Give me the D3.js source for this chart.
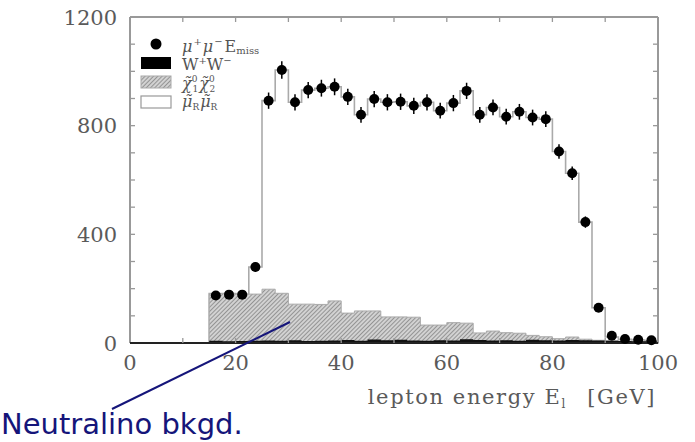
<!DOCTYPE html>
<html>
<head>
<meta charset="utf-8">
<script src="https://cdn.jsdelivr.net/npm/d3@7"></script>
<style>
  body { margin: 0; background: #fff; }
  svg { display: block; }
</style>
</head>
<body>
<div id="chart"></div>
<script>
// bin centres (2.5 GeV bins from 15 to 100)
const binCenters = [16.25, 18.75, 21.25, 23.75, 26.25, 28.75, 31.25, 33.75, 36.25, 38.75,
    41.25, 43.75, 46.25, 48.75, 51.25, 53.75, 56.25, 58.75, 61.25, 63.75,
    66.25, 68.75, 71.25, 73.75, 76.25, 78.75, 81.25, 83.75, 86.25, 88.75,
    91.25, 93.75, 96.25, 98.75];
const binWidth = 2.5;

// data points mu+mu- E_miss
const dataValues = [175, 178, 178, 280, 892, 1005, 886, 931, 938, 943,
    906, 840, 898, 886, 888, 873, 886, 855, 883, 928,
    840, 867, 833, 851, 830, 824, 705, 625, 445, 130,
    27, 15, 12, 10];
const dataErrors = [14, 14, 14, 17, 30, 32, 30, 30, 31, 31,
    30, 29, 30, 30, 30, 30, 30, 29, 30, 30,
    29, 29, 29, 29, 29, 29, 27, 25, 21, 12,
    6, 5, 4, 4];

// stacked MC: W+W-, neutralino, total (incl. smuon signal)
const wwValues = [8, 6, 7, 8, 9, 8, 10, 7, 8, 9,
    11, 8, 13, 10, 12, 9, 8, 10, 9, 14,
    11, 9, 10, 8, 12, 10, 9, 11, 10, 9,
    8, 7, 6, 6];
const chiValues = [174, 176, 173, 172, 189, 175, 133, 136, 134, 146,
    99, 110, 105, 86, 84, 86, 58, 56, 66, 59,
    26, 35, 28, 28, 16, 13, 7, 11, 4, 1,
    0, 0, 0, 0];
const totalValues = [182, 182, 180, 280, 892, 1005, 886, 931, 938, 943,
    906, 840, 898, 886, 888, 873, 886, 855, 883, 928,
    840, 867, 833, 851, 830, 824, 705, 625, 445, 130,
    22, 14, 11, 8];

const xTickLabels = [0, 20, 40, 60, 80, 100];
const yTickLabels = [0, 400, 800, 1200];

const W = 695, H = 442;
const margin = { top: 17, right: 37, bottom: 99, left: 130 };
const width = W - margin.left - margin.right;
const height = H - margin.top - margin.bottom;

const svg = d3.select('#chart').append('svg')
    .attr('width', W)
    .attr('height', H);

const defs = svg.append('defs');
const pat = defs.append('pattern')
    .attr('id', 'hatch')
    .attr('patternUnits', 'userSpaceOnUse')
    .attr('width', 3)
    .attr('height', 3)
    .attr('patternTransform', 'rotate(45)');
pat.append('rect').attr('width', 3).attr('height', 3).attr('fill', '#d2d2d2');
pat.append('line')
    .attr('x1', 0).attr('y1', 0).attr('x2', 0).attr('y2', 3)
    .attr('stroke', '#7a7a7a').attr('stroke-width', 1.4);

const g = svg.append('g')
    .attr('transform', `translate(${margin.left},${margin.top})`);

const x = d3.scaleLinear().domain([0, 100]).range([0, width]);
const y = d3.scaleLinear().domain([0, 1200]).range([height, 0]);

// build stepped area points
function stepPoints(highArr) {
    const pts = [];
    binCenters.forEach((c, i) => {
        pts.push({ x: c - binWidth / 2, y0: 0, y1: highArr[i] });
        pts.push({ x: c + binWidth / 2, y0: 0, y1: highArr[i] });
    });
    return pts;
}

const area = d3.area()
    .x(d => x(d.x))
    .y0(d => y(d.y0))
    .y1(d => y(d.y1));

// total MC (white smuon histogram on top)
g.append('path')
    .datum(stepPoints(totalValues))
    .attr('d', area)
    .attr('fill', '#fff')
    .attr('stroke', '#aaa')
    .attr('stroke-width', 1.6);

// neutralino (hatched) stacked on W+W-
const wwChiTop = chiValues.map((v, i) => v + wwValues[i]);
g.append('path')
    .datum(stepPoints(wwChiTop))
    .attr('d', area)
    .attr('fill', 'url(#hatch)')
    .attr('stroke', '#aaa')
    .attr('stroke-width', 1);

// W+W- (black)
g.append('path')
    .datum(stepPoints(wwValues))
    .attr('d', area)
    .attr('fill', '#111');

// frame and ticks
const axisGray = '#999';
g.append('line').attr('x1', 0).attr('x2', 0).attr('y1', 0).attr('y2', height)
    .attr('stroke', axisGray).attr('stroke-width', 2);
g.append('line').attr('x1', width).attr('x2', width).attr('y1', 0).attr('y2', height)
    .attr('stroke', axisGray).attr('stroke-width', 2);
g.append('line').attr('x1', 0).attr('x2', width).attr('y1', 0).attr('y2', 0)
    .attr('stroke', axisGray).attr('stroke-width', 2);
g.append('line').attr('x1', 0).attr('x2', width).attr('y1', height).attr('y2', height)
    .attr('stroke', '#222').attr('stroke-width', 2.2);

const yMinor = d3.range(100, 1200, 100);
const xMinor = d3.range(10, 100, 10);
const tickLen = 5;
yMinor.forEach(v => {
    g.append('line').attr('x1', 0).attr('x2', tickLen).attr('y1', y(v)).attr('y2', y(v))
        .attr('stroke', axisGray).attr('stroke-width', 1.3);
    g.append('line').attr('x1', width - tickLen).attr('x2', width).attr('y1', y(v)).attr('y2', y(v))
        .attr('stroke', axisGray).attr('stroke-width', 1.3);
});
xMinor.forEach(v => {
    g.append('line').attr('x1', x(v)).attr('x2', x(v)).attr('y1', height - tickLen).attr('y2', height)
        .attr('stroke', axisGray).attr('stroke-width', 1.3);
    g.append('line').attr('x1', x(v)).attr('x2', x(v)).attr('y1', 0).attr('y2', tickLen)
        .attr('stroke', axisGray).attr('stroke-width', 1.3);
});

const labelFont = 'DejaVu Serif, serif';
g.selectAll('.ylab')
    .data(yTickLabels)
    .enter()
    .append('text')
    .attr('class', 'ylab')
    .attr('x', -13)
    .attr('y', d => y(d))
    .attr('dy', '0.36em')
    .attr('text-anchor', 'end')
    .attr('font-family', labelFont)
    .attr('font-size', 21)
    .attr('fill', '#5a5a5a')
    .text(d => d);

g.selectAll('.xlab')
    .data(xTickLabels)
    .enter()
    .append('text')
    .attr('class', 'xlab')
    .attr('x', d => x(d))
    .attr('y', height + 27)
    .attr('text-anchor', 'middle')
    .attr('font-family', labelFont)
    .attr('font-size', 21)
    .attr('fill', '#5a5a5a')
    .text(d => d);

// x axis title
const xt = g.append('text')
    .attr('x', width - 2)
    .attr('y', height + 61)
    .attr('text-anchor', 'end')
    .attr('font-family', labelFont)
    .attr('font-size', 21)
    .attr('letter-spacing', 1.6)
    .attr('fill', '#5a5a5a');
xt.append('tspan').text('lepton energy E');
xt.append('tspan').attr('font-size', 12).attr('dy', 4).text('l');
xt.append('tspan').attr('dy', -4).text('\u2002 [GeV]');

// data points with error bars
const pts = g.selectAll('.pt')
    .data(binCenters.map((c, i) => ({ c, v: dataValues[i], e: dataErrors[i] })))
    .enter()
    .append('g')
    .attr('class', 'pt');
pts.append('line')
    .attr('x1', d => x(d.c)).attr('x2', d => x(d.c))
    .attr('y1', d => y(d.v + d.e)).attr('y2', d => y(d.v - d.e))
    .attr('stroke', '#000').attr('stroke-width', 1.5);
pts.append('circle')
    .attr('cx', d => x(d.c))
    .attr('cy', d => y(d.v))
    .attr('r', 5)
    .attr('fill', '#000');

// legend
const leg = svg.append('g');
leg.append('circle').attr('cx', 156).attr('cy', 44).attr('r', 5.5).attr('fill', '#000');
leg.append('rect').attr('x', 141).attr('y', 57).attr('width', 30).attr('height', 12).attr('fill', '#000');
leg.append('rect').attr('x', 141).attr('y', 76).attr('width', 30).attr('height', 12)
    .attr('fill', 'url(#hatch)').attr('stroke', '#aaa').attr('stroke-width', 1);
leg.append('rect').attr('x', 141).attr('y', 96).attr('width', 30).attr('height', 12)
    .attr('fill', '#fff').attr('stroke', '#999').attr('stroke-width', 1.2);

function legText(yPos) {
    return leg.append('text')
        .attr('x', 182)
        .attr('y', yPos)
        .attr('font-family', labelFont)
        .attr('font-size', 16)
        .attr('fill', '#555');
}
const t1 = legText(52);
t1.append('tspan').attr('font-style', 'italic').text('\u03bc');
t1.append('tspan').attr('font-size', 10).attr('dx', 1).attr('dy', -7).text('+');
t1.append('tspan').attr('font-style', 'italic').attr('dx', 1).attr('dy', 7).text('\u03bc');
t1.append('tspan').attr('font-size', 10).attr('dx', 1).attr('dy', -7).text('\u2212');
t1.append('tspan').attr('dx', 2).attr('dy', 7).text('E');
t1.append('tspan').attr('font-size', 10).attr('dy', 2).text('miss');

const t2 = legText(70);
t2.append('tspan').text('W');
t2.append('tspan').attr('font-size', 10).attr('dy', -6).text('+');
t2.append('tspan').attr('dy', 6).text('W');
t2.append('tspan').attr('font-size', 10).attr('dy', -6).text('\u2212');

const t3 = legText(89);
t3.append('tspan').attr('font-style', 'italic').text('\u03c7\u0303');
t3.append('tspan').attr('font-size', 9).attr('dy', -7).text('0');
t3.append('tspan').attr('font-size', 9).attr('dx', -5).attr('dy', 10).text('1');
t3.append('tspan').attr('font-style', 'italic').attr('dx', 1).attr('dy', -3).text('\u03c7\u0303');
t3.append('tspan').attr('font-size', 9).attr('dy', -7).text('0');
t3.append('tspan').attr('font-size', 9).attr('dx', -5).attr('dy', 10).text('2');

const t4 = legText(107);
t4.append('tspan').attr('font-style', 'italic').text('\u03bc\u0303');
t4.append('tspan').attr('font-size', 9).attr('dy', 3).text('R');
t4.append('tspan').attr('font-style', 'italic').attr('dx', 1).attr('dy', -3).text('\u03bc\u0303');
t4.append('tspan').attr('font-size', 9).attr('dy', 3).text('R');

// annotation
const navy = '#15157a';
svg.append('line')
    .attr('x1', 112).attr('y1', 409)
    .attr('x2', 290).attr('y2', 322)
    .attr('stroke', navy).attr('stroke-width', 2);
svg.append('text')
    .attr('x', 1)
    .attr('y', 434)
    .attr('font-family', 'DejaVu Sans, sans-serif')
    .attr('font-size', 29)
    .attr('fill', navy)
    .text('Neutralino bkgd.');
</script>
</body>
</html>
